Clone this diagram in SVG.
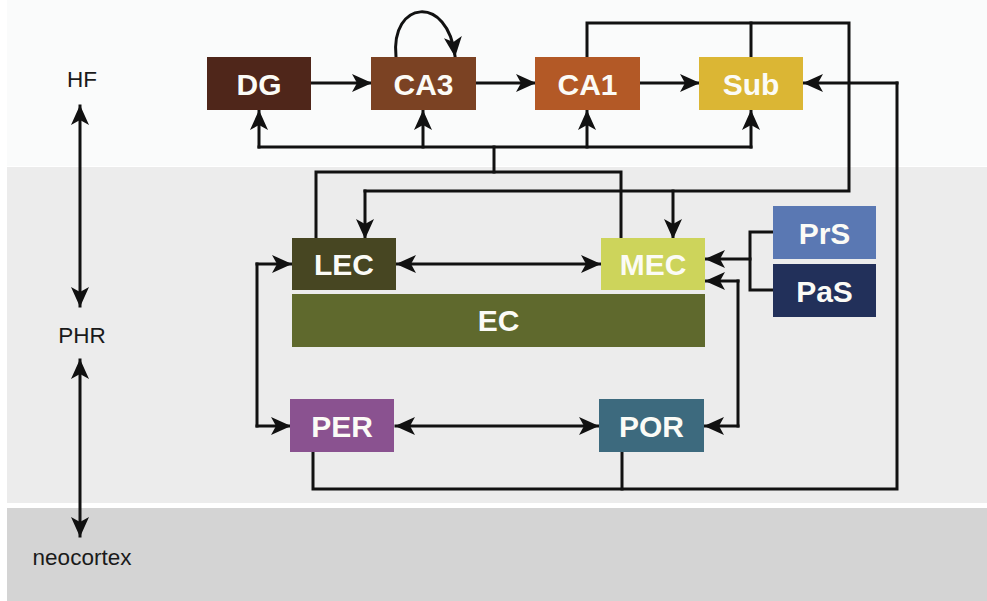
<svg xmlns="http://www.w3.org/2000/svg" width="987" height="601" viewBox="0 0 987 601">
<defs>
<marker id="ah" viewBox="0 0 20 18" refX="19" refY="9" markerWidth="20" markerHeight="18" markerUnits="userSpaceOnUse" orient="auto-start-reverse">
<path d="M0,0 L20,9 L0,18 L5,9 Z" fill="#111"/>
</marker>
</defs>
<style>
.box text{font-family:"Liberation Sans",Arial,sans-serif;font-weight:bold;font-size:30px;fill:#fbfbf6;text-anchor:middle}
.lbl{font-family:"Liberation Sans",Arial,sans-serif;font-size:22.5px;fill:#1a1a1a;text-anchor:middle}
.w{fill:none;stroke:#111;stroke-width:3;stroke-linejoin:miter;stroke-linecap:square}
.a{marker-end:url(#ah)}
.b{marker-start:url(#ah);marker-end:url(#ah)}
</style>
<rect x="0" y="0" width="987" height="601" fill="#ffffff"/>
<rect x="7" y="0" width="980" height="166" fill="#fafbfb"/>
<rect x="7" y="167" width="980" height="336" fill="#ececec"/>
<rect x="7" y="508" width="980" height="93" fill="#d4d4d4"/>

<g id="axis">
<text class="lbl" x="82" y="87">HF</text>
<text class="lbl" x="82" y="343">PHR</text>
<text class="lbl" x="82" y="565">neocortex</text>
</g>

<g id="connectors">
<line class="w b" x1="80" y1="106" x2="80" y2="306"/>
<line class="w b" x1="80" y1="360" x2="80" y2="536"/>
<!-- top row chain -->
<line class="w a" x1="312" y1="83" x2="371" y2="83"/>
<line class="w a" x1="476" y1="83" x2="535" y2="83"/>
<line class="w a" x1="640" y1="83" x2="699" y2="83"/>
<path class="w a" d="M396,57 C390,0 448,-6 455,56"/>
<!-- EC to HF -->
<path class="w" d="M316,238 V172 H621 V238"/>
<line class="w" x1="494" y1="172" x2="494" y2="147"/>
<line class="w" x1="259" y1="147" x2="751" y2="147"/>
<line class="w a" x1="259" y1="147" x2="259" y2="111"/>
<line class="w a" x1="423" y1="147" x2="423" y2="111"/>
<line class="w a" x1="587" y1="147" x2="587" y2="111"/>
<line class="w a" x1="751" y1="147" x2="751" y2="111"/>
<!-- CA1/Sub to EC -->
<path class="w" d="M587,57 V23 H849 V191 H365"/>
<line class="w" x1="751" y1="57" x2="751" y2="23"/>
<line class="w a" x1="365" y1="191" x2="365" y2="238"/>
<line class="w a" x1="673" y1="191" x2="673" y2="238"/>
<!-- PrS/PaS to MEC -->
<path class="w" d="M773,232 H750 V290 H773"/>
<line class="w a" x1="750" y1="259" x2="706" y2="259"/>
<!-- MEC/POR right -->
<path class="w" d="M738,426 V281"/>
<line class="w a" x1="738" y1="281" x2="706" y2="281"/>
<line class="w a" x1="738" y1="426" x2="705" y2="426"/>
<!-- LEC/PER left -->
<path class="w" d="M257,264 V426"/>
<line class="w a" x1="257" y1="264" x2="291" y2="264"/>
<line class="w a" x1="257" y1="426" x2="290" y2="426"/>
<!-- horizontals -->
<line class="w b" x1="397" y1="264" x2="600" y2="264"/>
<line class="w b" x1="396" y1="426" x2="598" y2="426"/>
<!-- bottom return to Sub -->
<path class="w" d="M313,453 V489 H897 V83"/>
<line class="w" x1="622" y1="453" x2="622" y2="489"/>
<line class="w a" x1="897" y1="83" x2="804" y2="83"/>
</g>

<g id="DG" class="box"><rect x="207" y="57" width="104" height="53" fill="#4f261a"/><text x="259" y="94.5">DG</text></g>
<g id="CA3" class="box"><rect x="371" y="57" width="105" height="53" fill="#7b4223"/><text x="423.5" y="94.5">CA3</text></g>
<g id="CA1" class="box"><rect x="535" y="57" width="105" height="53" fill="#b35926"/><text x="587.5" y="94.5">CA1</text></g>
<g id="Sub" class="box"><rect x="699" y="57" width="104" height="53" fill="#dbb634"/><text x="751" y="94.5">Sub</text></g>
<g id="LEC" class="box"><rect x="292" y="238" width="104" height="52" fill="#474622"/><text x="344" y="275">LEC</text></g>
<g id="MEC" class="box"><rect x="601" y="238" width="104" height="52" fill="#cdd45b"/><text x="653" y="275">MEC</text></g>
<g id="EC" class="box"><rect x="292" y="294" width="413" height="53" fill="#5f692d"/><text x="498.5" y="331">EC</text></g>
<g id="PrS" class="box"><rect x="773" y="206" width="103" height="53" fill="#5a78b3"/><text x="824.5" y="244">PrS</text></g>
<g id="PaS" class="box"><rect x="773" y="264" width="103" height="53" fill="#22305a"/><text x="824.5" y="301.5">PaS</text></g>
<g id="PER" class="box"><rect x="290" y="399" width="104" height="53" fill="#8a5290"/><text x="342" y="436.5">PER</text></g>
<g id="POR" class="box"><rect x="599" y="399" width="105" height="53" fill="#3d6a7e"/><text x="651.5" y="436.5">POR</text></g>
</svg>
